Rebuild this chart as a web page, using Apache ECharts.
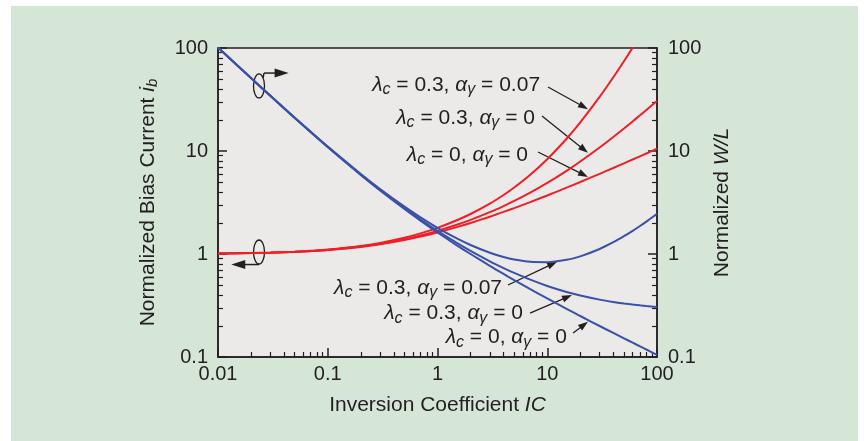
<!DOCTYPE html>
<html>
<head>
<meta charset="utf-8">
<script src="https://cdn.jsdelivr.net/npm/echarts@6/dist/echarts.min.js"></script>
<style>
  html, body { margin: 0; padding: 0; background: #ffffff; }
  #bg { position: absolute; left: 11px; top: 6px; width: 847px; height: 435px; background: #d5e5d6; }
  #container { position: absolute; left: 0; top: 0; width: 864px; height: 441px; }
</style>
</head>
<body>
<div id="bg"></div>
<div id="container"></div>
<script>
// inversion coefficient sample points (x axis)
var ic = [0.01, 0.02, 0.03, 0.05, 0.07, 0.1, 0.2, 0.3, 0.5, 0.7, 1, 1.5, 2, 3, 4, 5, 7, 10, 15, 20, 30, 40, 50, 60, 70, 80, 100];

// normalized bias current (red, left axis)
var ibL0 = [1.010, 1.020, 1.029, 1.048, 1.066, 1.092, 1.171, 1.242, 1.366, 1.475, 1.618, 1.823, 2.0, 2.303, 2.562, 2.791, 3.193, 3.702, 4.405, 5.0, 6.0, 6.844, 7.589, 8.262, 8.882, 9.458, 10.51];
var ibL3 = [1.010, 1.020, 1.030, 1.050, 1.069, 1.096, 1.180, 1.256, 1.391, 1.513, 1.678, 1.923, 2.145, 2.549, 2.921, 3.273, 3.943, 4.897, 6.422, 7.906, 10.82, 13.69, 16.54, 19.38, 22.20, 25.02, 30.65];
var ibA7 = [1.011, 1.022, 1.033, 1.053, 1.074, 1.103, 1.196, 1.282, 1.440, 1.587, 1.795, 2.125, 2.445, 3.084, 3.739, 4.419, 5.874, 8.325, 13.16, 18.97, 33.53, 52.02, 74.43, 100.8, 131.0, 165.2, 245.2];

// normalized W/L (blue, right axis)
var wlL0 = [101.0, 50.98, 34.31, 20.95, 15.22, 10.92, 5.854, 4.139, 2.732, 2.107, 1.618, 1.215, 1.0, 0.7676, 0.6404, 0.5583, 0.4561, 0.3702, 0.2937, 0.25, 0.2, 0.1711, 0.1518, 0.1377, 0.1269, 0.1182, 0.1051];
var wlL3 = [101.0, 51.02, 34.34, 20.99, 15.26, 10.96, 5.898, 4.185, 2.783, 2.161, 1.678, 1.282, 1.072, 0.8496, 0.7302, 0.6546, 0.5632, 0.4897, 0.4281, 0.3953, 0.3606, 0.3422, 0.3308, 0.3229, 0.3172, 0.3128, 0.3065];
var wlA7 = [101.1, 51.09, 34.42, 21.07, 15.34, 11.03, 5.981, 4.273, 2.880, 2.267, 1.795, 1.416, 1.223, 1.028, 0.9346, 0.8837, 0.8392, 0.8325, 0.8776, 0.9487, 1.118, 1.301, 1.489, 1.679, 1.871, 2.065, 2.452];

// ticks
var xMajor = [0.01, 0.1, 1, 10, 100];
var yMajor = [0.1, 1, 10, 100];
var xMinor = [];
var yMinor = [];
[0.01, 0.1, 1, 10].forEach(function (d) {
  for (var k = 2; k <= 9; k++) xMinor.push(+(d * k).toPrecision(3));
});
[0.1, 1, 10].forEach(function (d) {
  for (var k = 2; k <= 9; k++) yMinor.push(+(d * k).toPrecision(3));
});

// curve annotations: text end point and arrow [from, to], all in data coords
var labels = [
  { text: "{g|λ}{s|c} = 0.3, {g|α}{s|γ} = 0.07", at: [8.6, 43.8], from: [10.16, 41.8], to: [23.5, 25.5] },
  { text: "{g|λ}{s|c} = 0.3, {g|α}{s|γ} = 0", at: [7.73, 20.9], from: [8.96, 21.9], to: [23.5, 9.6] },
  { text: "{g|λ}{s|c} = 0, {g|α}{s|γ} = 0", at: [6.68, 9.14], from: [8.24, 9.77], to: [23.5, 5.6] },
  { text: "{g|λ}{s|c} = 0.3, {g|α}{s|γ} = 0.07", at: [3.87, 0.468], from: [4.39, 0.50], to: [12.3, 0.84] },
  { text: "{g|λ}{s|c} = 0.3, {g|α}{s|γ} = 0", at: [6.01, 0.267], from: [6.97, 0.267], to: [16.8, 0.40] },
  { text: "{g|λ}{s|c} = 0, {g|α}{s|γ} = 0", at: [15.1, 0.156], from: [17.2, 0.171], to: [23.5, 0.22] }
];

var FONT = "'Liberation Sans', Arial, sans-serif";
var INK = "#231f20";
var RED = "#ee1f26";
var BLUE = "#3a51a8";

var richText = {
  g: { fontFamily: FONT, fontSize: 21, fontStyle: "italic", color: INK },
  s: { fontFamily: FONT, fontSize: 16, fontStyle: "italic", color: INK, padding: [10, 0, 0, 0] }
};

var dom = document.getElementById("container");
var myChart = echarts.init(dom, null, { renderer: "canvas" });

function pairs(ys) {
  return ic.map(function (x, i) { return [x, ys[i]]; });
}

function line(name, ys, color) {
  return {
    name: name,
    type: "line",
    data: pairs(ys),
    showSymbol: false,
    smooth: 0.3,
    clip: true,
    lineStyle: { color: color, width: 2 },
    silent: true
  };
}

function logAxis(extra) {
  var base = {
    type: "log",
    logBase: 10,
    axisLine: { show: false },
    splitLine: { show: false },
    axisTick: { show: false },
    axisLabel: { show: false }
  };
  return Object.assign(base, extra);
}

var option = {
  animation: false,
  grid: {
    left: 218, right: 207, top: 48, bottom: 84,
    show: true, backgroundColor: "#ece9e9", borderColor: INK, borderWidth: 1.5,
    outerBoundsMode: "none"
  },
  xAxis: [
    logAxis({
      min: 0.01, max: 100, position: "bottom",
      axisLine: { show: true, lineStyle: { color: INK, width: 1.5 } },
      axisTick: { show: true, inside: true, length: 9, customValues: xMajor, lineStyle: { color: INK, width: 1.5 } },
      axisLabel: {
        show: true, customValues: xMajor, margin: 7, color: INK, fontFamily: FONT, fontSize: 20,
        formatter: function (v) { return String(+v.toPrecision(3)); }
      },
      name: "Inversion Coefficient {it|IC}",
      nameLocation: "middle", nameGap: 38, nameMoveOverlap: false,
      nameTextStyle: {
        color: INK, fontFamily: FONT, fontSize: 21,
        rich: { it: { fontFamily: FONT, fontSize: 21, fontStyle: "italic", color: INK } }
      }
    }),
    logAxis({
      min: 0.01, max: 100, position: "bottom",
      axisTick: { show: true, inside: true, length: 5, customValues: xMinor, lineStyle: { color: INK, width: 1.2 } }
    })
  ],
  yAxis: [
    logAxis({
      min: 0.1, max: 100, position: "left",
      axisLine: { show: true, lineStyle: { color: INK, width: 1.5 } },
      axisTick: { show: true, inside: true, length: 9, customValues: yMajor, lineStyle: { color: INK, width: 1.5 } },
      axisLabel: {
        show: true, customValues: yMajor, margin: 10, color: INK, fontFamily: FONT, fontSize: 20,
        formatter: function (v) { return String(+v.toPrecision(3)); }
      },
      name: "Normalized Bias Current {it|i}{sub|b}",
      nameLocation: "middle", nameGap: 58, nameMoveOverlap: false,
      nameTextStyle: {
        color: INK, fontFamily: FONT, fontSize: 21,
        rich: {
          it: { fontFamily: FONT, fontSize: 21, fontStyle: "italic", color: INK },
          sub: { fontFamily: FONT, fontSize: 15, fontStyle: "italic", color: INK, padding: [9, 0, 0, 0] }
        }
      }
    }),
    logAxis({
      min: 0.1, max: 100, position: "left",
      axisTick: { show: true, inside: true, length: 5, customValues: yMinor, lineStyle: { color: INK, width: 1.2 } }
    }),
    logAxis({
      min: 0.1, max: 100, position: "right",
      axisLine: { show: true, lineStyle: { color: INK, width: 1.5 } },
      axisTick: { show: true, inside: true, length: 9, customValues: yMajor, lineStyle: { color: INK, width: 1.5 } },
      axisLabel: {
        show: true, customValues: yMajor, margin: 11, color: INK, fontFamily: FONT, fontSize: 20,
        formatter: function (v) { return String(+v.toPrecision(3)); }
      },
      name: "Normalized {it|W/L}",
      nameLocation: "middle", nameGap: 55, nameMoveOverlap: false,
      nameTextStyle: {
        color: INK, fontFamily: FONT, fontSize: 21,
        rich: { it: { fontFamily: FONT, fontSize: 21, fontStyle: "italic", color: INK } }
      }
    }),
    logAxis({
      min: 0.1, max: 100, position: "right",
      axisTick: { show: true, inside: true, length: 5, customValues: yMinor, lineStyle: { color: INK, width: 1.2 } }
    })
  ],
  series: [
    line("ib l0", ibL0, RED),
    line("ib l0.3", ibL3, RED),
    line("ib l0.3 a0.07", ibA7, RED),
    line("wl l0", wlL0, BLUE),
    line("wl l0.3", wlL3, BLUE),
    line("wl l0.3 a0.07", wlA7, BLUE)
  ]
};

myChart.setOption(option);

// annotations: arrows, texts and the axis-pointer ellipses
function px(p) {
  return myChart.convertToPixel({ xAxisIndex: 0, yAxisIndex: 0 }, p);
}

function arrow(a, b, headLen, headW, width) {
  var dx = b[0] - a[0], dy = b[1] - a[1];
  var len = Math.sqrt(dx * dx + dy * dy);
  var ux = dx / len, uy = dy / len;
  var bx = b[0] - ux * headLen, by = b[1] - uy * headLen;
  return [
    {
      type: "line", silent: true,
      shape: { x1: a[0], y1: a[1], x2: bx + ux, y2: by + uy },
      style: { stroke: INK, lineWidth: width }
    },
    {
      type: "polygon", silent: true,
      shape: { points: [[b[0], b[1]], [bx - uy * headW, by + ux * headW], [bx + uy * headW, by - ux * headW]] },
      style: { fill: INK }
    }
  ];
}

var gfx = [];
labels.forEach(function (l) {
  var p = px(l.at);
  gfx.push({
    type: "text", silent: true, x: p[0], y: p[1],
    style: {
      text: l.text, rich: richText, fill: INK,
      font: "21px " + FONT, align: "right", verticalAlign: "middle"
    }
  });
  gfx = gfx.concat(arrow(px(l.from), px(l.to), 10, 3.5, 1.3));
});

// ellipse on the blue curves -> right axis, ellipse on red curves -> left axis
var ellTop = px([0.02364, 42.8]);
var ellBot = px([0.02364, 1.046]);
[ellTop, ellBot].forEach(function (c) {
  gfx.push({
    type: "ellipse", silent: true,
    shape: { cx: c[0], cy: c[1], rx: 5.5, ry: 12 },
    style: { fill: null, stroke: INK, lineWidth: 1.3 }
  });
});
gfx = gfx.concat(arrow(px([0.02624, 57.1]), px([0.0440, 57.1]), 14, 4.5, 1.5));
gfx = gfx.concat(arrow(px([0.02364, 0.79]), px([0.0132, 0.79]), 14, 4.5, 1.5));
// short vertical stub joining the top ellipse to its arrow
gfx.push({
  type: "line", silent: true,
  shape: { x1: ellTop[0] + 4, y1: ellTop[1] - 8, x2: ellTop[0] + 5, y2: px([0.02624, 57.1])[1] },
  style: { stroke: INK, lineWidth: 1.5 }
});

myChart.setOption({ graphic: gfx });
</script>
</body>
</html>
